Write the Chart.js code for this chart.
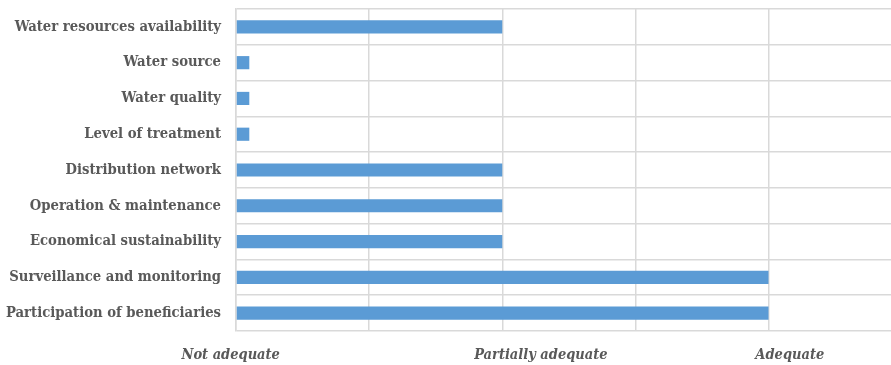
<!DOCTYPE html>
<html>
<head>
<meta charset="utf-8">
<script src="https://cdn.jsdelivr.net/npm/chart.js@4/dist/chart.umd.min.js"></script>
<style>
  html, body { margin: 0; padding: 0; background: #ffffff; }
  #wrap { width: 891px; height: 365px; }
</style>
</head>
<body>
<div id="wrap"><canvas id="chart" width="891" height="365"></canvas></div>
<script>
// Assessment criteria, listed top to bottom
const categories = [
  'Water resources availability',
  'Water source',
  'Water quality',
  'Level of treatment',
  'Distribution network',
  'Operation & maintenance',
  'Economical sustainability',
  'Surveillance and monitoring',
  'Participation of beneficiaries'
];

// Score per criterion (0 = not adequate, 2 = partially adequate, 4 = adequate)
const scores = [2, 0.1, 0.1, 0.1, 2, 2, 2, 4, 4];

// Rating words shown under the scale and where they sit on it
const ratingLabels = ['Not adequate', 'Partially adequate', 'Adequate'];
const ratingValues = [-0.04, 2.29, 4.16];

const scaleMax = 4.92;
const labelColor = '#595959';
const gridColor = '#d9d9d9';
const serif = "'DejaVu Serif Condensed', 'DejaVu Serif', serif";

new Chart(document.getElementById('chart'), {
  type: 'bar',
  data: {
    labels: categories,
    datasets: [{
      data: scores,
      backgroundColor: '#5b9bd5',
      borderWidth: 0,
      categoryPercentage: 0.8,
      barPercentage: 0.46
    }]
  },
  options: {
    indexAxis: 'y',
    responsive: false,
    animation: false,
    layout: { padding: { top: 9, right: 0, left: 0, bottom: 0 } },
    plugins: { legend: { display: false }, tooltip: { enabled: false } },
    scales: {
      y: {
        grid: { color: gridColor, lineWidth: 1.5, drawTicks: false, offset: true },
        border: { color: gridColor, width: 1.5 },
        ticks: {
          color: labelColor,
          padding: 15,
          font: { family: serif, weight: 'bold', size: 14.7 }
        },
        afterFit(scale) {
          scale.width = 236;
          scale.paddingTop = 0;
          scale.paddingBottom = 0;
        }
      },
      x: {
        position: 'bottom',
        min: 0,
        max: scaleMax,
        grid: { color: gridColor, lineWidth: 1.5, drawTicks: false },
        border: { display: false },
        ticks: { display: false, stepSize: 1 },
        afterBuildTicks(scale) {
          scale.ticks = scale.ticks.filter(t => Number.isInteger(t.value));
        },
        afterFit(scale) {
          scale.height = 0;
          scale.paddingLeft = 0;
          scale.paddingRight = 0;
        }
      },
      x2: {
        type: 'linear',
        position: 'bottom',
        min: 0,
        max: scaleMax,
        grid: { display: false, drawTicks: false },
        border: { display: false },
        afterBuildTicks(scale) {
          scale.ticks = ratingValues.map(v => ({ value: v }));
        },
        ticks: {
          autoSkip: false,
          maxRotation: 0,
          padding: 16,
          color: labelColor,
          font: { family: serif, weight: 'bold', style: 'italic', size: 14.5 },
          callback(value, index) { return ratingLabels[index]; }
        },
        afterFit(scale) {
          scale.height = 34;
          scale.paddingLeft = 0;
          scale.paddingRight = 0;
        }
      }
    }
  }
});
</script>
</body>
</html>
